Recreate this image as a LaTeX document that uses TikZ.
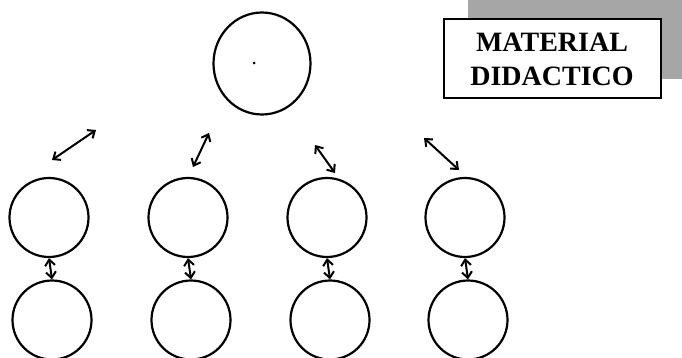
\documentclass[tikz,border=0pt]{standalone}
\usepackage{fontspec}
\setmainfont{Liberation Serif}
\usetikzlibrary{arrows.meta,shapes.geometric}
\tikzset{
  ring/.style={draw, circle, line width=2.2pt, minimum size=79pt, inner sep=0pt},
  dbl/.style={line width=2pt, {Straight Barb[length=6pt,width=10pt]}-{Straight Barb[length=6pt,width=10pt]}},
}
\begin{document}
\begin{tikzpicture}[x=1pt,y=-1pt]
\useasboundingbox (0,0) rectangle (682,358);
% shaded corner behind the label
\fill[black!35] (468,0) rectangle (682,79);
% top circle
\node[draw, ellipse, line width=2.2pt, minimum width=97pt, minimum height=102pt, inner sep=0pt] (top) at (262,63.5) {};
\fill (254,63) circle (1.5pt);
% label box
\node[draw, fill=white, line width=2pt, minimum width=217pt, minimum height=79pt, align=center,
      font=\bfseries\fontsize{28}{34}\selectfont] (box) at (552,59) {MATERIAL\\DIDACTICO};
% first row
\node[ring] (a1) at (49,217.5) {};
\node[ring] (b1) at (188,217.5) {};
\node[ring] (c1) at (327,217.5) {};
\node[ring] (d1) at (465,217.5) {};
% second row
\node[ring] (a2) at (52,320) {};
\node[ring] (b2) at (191,320) {};
\node[ring] (c2) at (330,320) {};
\node[ring] (d2) at (468,320) {};
% diagonal arrows
\coordinate (p1) at (52,160); \coordinate (q1) at (96,130);
\coordinate (p2) at (193,167); \coordinate (q2) at (209,133);
\coordinate (p3) at (315,145); \coordinate (q3) at (335,173);
\coordinate (p4) at (424,138); \coordinate (q4) at (459,170);
\draw[dbl] (p1) -- (q1);
\draw[dbl] (p2) -- (q2);
\draw[dbl] (p3) -- (q3);
\draw[dbl] (p4) -- (q4);
% vertical arrows
\draw[dbl] (a1.south) -- (a2.north);
\draw[dbl] (b1.south) -- (b2.north);
\draw[dbl] (c1.south) -- (c2.north);
\draw[dbl] (d1.south) -- (d2.north);
\end{tikzpicture}
\end{document}
